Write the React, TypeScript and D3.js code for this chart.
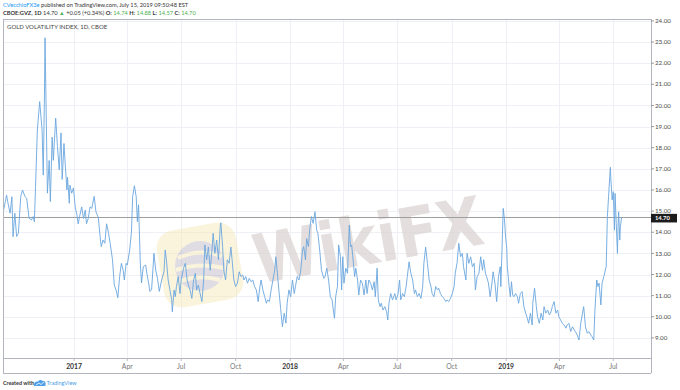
import React from 'react';
import * as d3 from 'd3';

// CBOE:GVZ daily closes ([MM-DD, close])
const gvz2016: [string, number][] = [
  ['09-04', 15.05], ['09-07', 15.45], ['09-09', 15.76], ['09-12', 15.3], ['09-15', 14.9], ['09-18', 15.68], ['09-20', 13.79], ['09-23', 14.9], ['09-26', 13.8], ['09-29', 13.95],
  ['10-03', 15.7], ['10-06', 16.0], ['10-10', 15.7], ['10-13', 15.6], ['10-17', 14.67], ['10-21', 14.58], ['10-24', 14.74], ['10-26', 14.5], ['10-28', 16.16], ['10-31', 18.84],
  ['11-04', 20.18], ['11-08', 18.84], ['11-10', 16.7], ['11-12', 20.4], ['11-13', 23.2], ['11-15', 19.6], ['11-17', 15.85], ['11-20', 17.4], ['11-22', 15.45], ['11-25', 18.5], ['11-27', 17.4],
  ['12-01', 19.4], ['12-04', 18.05], ['12-07', 16.95], ['12-10', 18.7], ['12-12', 16.5], ['12-15', 18.2], ['12-17', 17.27], ['12-20', 16.0], ['12-21', 16.6], ['12-24', 15.37], ['12-25', 16.23], ['12-28', 15.85], ['12-31', 16.1],
];
const gvz2017: [string, number][] = [
  ['01-03', 15.2], ['01-06', 14.8], ['01-08', 14.4], ['01-11', 14.82], ['01-14', 15.2], ['01-17', 14.65], ['01-20', 15.05], ['01-22', 14.4], ['01-25', 14.65], ['01-28', 15.2], ['01-31', 15.13],
  ['02-04', 15.7], ['02-07', 14.97], ['02-11', 14.7], ['02-14', 13.8], ['02-16', 13.32], ['02-19', 13.63], ['02-22', 13.48], ['02-25', 14.4], ['02-28', 14.0],
  ['03-03', 13.48], ['03-07', 12.7], ['03-10', 11.5], ['03-13', 11.27], ['03-16', 10.9], ['03-19', 11.9], ['03-22', 12.53], ['03-25', 12.2], ['03-27', 11.74], ['03-30', 12.53],
  ['04-01', 12.45], ['04-05', 13.16], ['04-08', 14.0], ['04-10', 15.68], ['04-13', 16.2], ['04-16', 15.68], ['04-18', 14.5], ['04-20', 15.3], ['04-23', 12.5], ['04-25', 11.6], ['04-28', 12.37],
  ['05-02', 12.45], ['05-04', 12.06], ['05-07', 11.6], ['05-09', 11.2], ['05-12', 11.27], ['05-16', 13.0], ['05-19', 12.2], ['05-22', 11.82], ['05-25', 11.2], ['05-29', 11.74],
  ['06-02', 12.13], ['06-04', 13.16], ['06-06', 12.7], ['06-09', 11.74], ['06-12', 11.27], ['06-15', 10.8], ['06-16', 10.24], ['06-19', 11.27], ['06-21', 10.95], ['06-23', 11.43], ['06-26', 11.9], ['06-29', 11.1],
  ['07-01', 11.74], ['07-05', 12.3], ['07-08', 12.53], ['07-11', 11.74], ['07-14', 11.43], ['07-16', 11.27], ['07-19', 10.87], ['07-22', 11.74], ['07-25', 12.06], ['07-27', 11.27], ['07-30', 11.5],
  ['08-02', 11.1], ['08-05', 10.72], ['08-08', 11.74], ['08-10', 13.4], ['08-13', 12.7], ['08-16', 13.3], ['08-19', 12.2], ['08-22', 13.16], ['08-24', 13.95], ['08-27', 13.0], ['08-30', 13.63],
  ['09-02', 12.7], ['09-05', 14.27], ['09-06', 14.45], ['09-09', 13.32], ['09-11', 12.2], ['09-14', 11.74], ['09-17', 12.7], ['09-20', 12.53], ['09-23', 13.3], ['09-25', 12.7], ['09-28', 11.74],
  ['10-01', 11.43], ['10-04', 11.59], ['10-07', 12.13], ['10-10', 11.9], ['10-13', 11.98], ['10-15', 11.74], ['10-18', 11.9], ['10-21', 11.59], ['10-24', 11.82], ['10-27', 11.66], ['10-30', 11.74],
  ['11-02', 11.43], ['11-05', 11.27], ['11-08', 10.72], ['11-11', 11.43], ['11-13', 11.74], ['11-16', 11.27], ['11-19', 10.95], ['11-22', 10.64], ['11-24', 10.8], ['11-27', 10.72], ['11-30', 11.27],
  ['12-03', 11.74], ['12-06', 12.2], ['12-08', 12.84], ['12-11', 11.9], ['12-13', 11.27], ['12-16', 10.4], ['12-19', 9.53], ['12-22', 10.17], ['12-25', 9.7], ['12-27', 10.64], ['12-30', 11.27],
];
const gvz2018: [string, number][] = [
  ['01-02', 10.95], ['01-05', 11.74], ['01-08', 11.1], ['01-10', 11.43], ['01-13', 11.9], ['01-16', 11.74], ['01-19', 12.2], ['01-22', 13.16], ['01-24', 13.32], ['01-27', 12.7], ['01-29', 13.7],
  ['02-01', 13.32], ['02-03', 14.1], ['02-06', 14.74], ['02-09', 14.42], ['02-12', 14.97], ['02-15', 14.1], ['02-17', 13.95], ['02-20', 13.16], ['02-23', 12.2], ['02-27', 11.82],
  ['03-01', 11.9], ['03-04', 12.3], ['03-07', 11.74], ['03-10', 10.95], ['03-13', 10.8], ['03-15', 10.32], ['03-17', 9.93], ['03-19', 10.95], ['03-22', 11.43], ['03-24', 13.4], ['03-27', 12.84], ['03-29', 11.27], ['03-31', 12.84],
  ['04-02', 11.59], ['04-05', 12.3], ['04-08', 12.06], ['04-11', 14.34], ['04-13', 13.32], ['04-15', 13.4], ['04-18', 12.53], ['04-20', 11.9], ['04-22', 12.3], ['04-25', 11.74], ['04-27', 11.03], ['04-30', 11.74],
  ['05-03', 11.59], ['05-06', 11.03], ['05-09', 11.74], ['05-11', 11.1], ['05-14', 11.74], ['05-17', 11.59], ['05-20', 11.27], ['05-23', 11.66], ['05-25', 10.95], ['05-28', 12.3], ['05-30', 10.8],
  ['06-02', 10.48], ['06-04', 10.64], ['06-07', 10.32], ['06-10', 10.48], ['06-13', 10.24], ['06-15', 9.85], ['06-17', 10.64], ['06-20', 11.1], ['06-23', 10.8], ['06-27', 11.1], ['06-29', 10.8],
  ['07-02', 11.03], ['07-05', 11.74], ['07-07', 10.8], ['07-10', 11.1], ['07-13', 10.95], ['07-16', 11.43], ['07-18', 11.9], ['07-21', 12.6], ['07-24', 12.06], ['07-27', 11.74], ['07-30', 11.1],
  ['08-01', 11.27], ['08-04', 10.95], ['08-07', 11.1], ['08-10', 10.87], ['08-13', 11.43], ['08-15', 12.53], ['08-18', 13.3], ['08-21', 12.53], ['08-24', 11.74], ['08-27', 11.43], ['08-29', 11.1],
  ['09-01', 10.95], ['09-04', 11.43], ['09-07', 11.27], ['09-09', 11.35], ['09-12', 11.1], ['09-15', 10.95], ['09-18', 10.87], ['09-21', 10.72], ['09-23', 10.8], ['09-26', 10.72], ['09-29', 10.87],
  ['10-02', 11.1], ['10-05', 11.43], ['10-07', 12.06], ['10-10', 12.53], ['10-13', 13.48], ['10-16', 12.84], ['10-19', 13.0], ['10-21', 12.37], ['10-25', 11.74], ['10-27', 13.0], ['10-30', 12.53],
  ['11-02', 12.84], ['11-05', 12.37], ['11-08', 12.53], ['11-10', 11.27], ['11-13', 11.9], ['11-16', 12.06], ['11-19', 12.84], ['11-22', 12.2], ['11-24', 12.7], ['11-27', 12.06], ['11-29', 11.9],
  ['12-02', 11.6], ['12-05', 10.95], ['12-08', 11.6], ['12-10', 12.13], ['12-13', 11.6], ['12-16', 10.72], ['12-19', 11.9], ['12-22', 12.37], ['12-23', 11.43], ['12-25', 13.16], ['12-27', 15.13], ['12-29', 14.66], ['12-31', 13.79],
];
const gvz2019: [string, number][] = [
  ['01-02', 13.24], ['01-03', 12.37], ['01-06', 11.43], ['01-08', 10.95], ['01-10', 11.66], ['01-12', 11.03], ['01-14', 10.95], ['01-17', 11.1], ['01-20', 10.95], ['01-22', 10.64], ['01-25', 11.1], ['01-28', 11.19], ['01-31', 10.48],
  ['02-03', 10.17], ['02-05', 10.0], ['02-08', 9.69], ['02-11', 10.17], ['02-14', 9.61], ['02-15', 10.64], ['02-18', 11.35], ['02-21', 10.48], ['02-23', 10.0], ['02-26', 9.69],
  ['03-01', 10.17], ['03-04', 9.85], ['03-06', 10.48], ['03-09', 10.17], ['03-12', 10.32], ['03-15', 10.09], ['03-17', 10.17], ['03-20', 10.48], ['03-23', 10.72], ['03-26', 10.17], ['03-29', 10.32], ['03-31', 10.0],
  ['04-03', 9.85], ['04-06', 9.69], ['04-09', 9.61], ['04-12', 9.46], ['04-14', 9.61], ['04-17', 9.69], ['04-20', 9.3], ['04-23', 9.53], ['04-26', 9.38], ['04-28', 9.3],
  ['05-01', 9.14], ['05-04', 8.9], ['05-07', 9.69], ['05-10', 10.17], ['05-12', 10.48], ['05-15', 9.53], ['05-18', 9.22], ['05-21', 9.3], ['05-24', 9.14], ['05-26', 9.06], ['05-29', 8.9], ['05-31', 10.32],
  ['06-03', 11.74], ['06-05', 11.43], ['06-07', 11.59], ['06-10', 10.56], ['06-12', 11.59], ['06-15', 11.9], ['06-19', 12.38], ['06-21', 14.74], ['06-23', 15.68], ['06-25', 16.63], ['06-26', 17.07], ['06-27', 16.47], ['06-29', 15.53],
  ['07-01', 15.92], ['07-03', 14.1], ['07-04', 15.84], ['07-06', 14.42], ['07-08', 13.0], ['07-09', 14.26], ['07-10', 14.97], ['07-12', 13.63], ['07-13', 14.26], ['07-15', 14.7],
];

const priceTicks = [9, 10, 11, 12, 13, 14, 15, 16, 17, 18, 19, 20, 21, 22, 23, 24];
const timeTicks = ['2017-01-01', '2017-04-01', '2017-07-01', '2017-10-01', '2018-01-01', '2018-04-01', '2018-07-01', '2018-10-01', '2019-01-01', '2019-04-01', '2019-07-01'];
const timeLabels = ['2017', 'Apr', 'Jul', 'Oct', '2018', 'Apr', 'Jul', 'Oct', '2019', 'Apr', 'Jul'];
const lastClose = 14.7;

const parse = d3.timeParse('%Y-%m-%d');
const series = [
  ...gvz2016.map(([d, v]) => ({ date: parse(`2016-${d}`)!, value: v })),
  ...gvz2017.map(([d, v]) => ({ date: parse(`2017-${d}`)!, value: v })),
  ...gvz2018.map(([d, v]) => ({ date: parse(`2018-${d}`)!, value: v })),
  ...gvz2019.map(([d, v]) => ({ date: parse(`2019-${d}`)!, value: v })),
];

const W = 680;
const H = 390;
const L = 3;
const T = 19;
const R = 651;
const B = 358;
const AXIS_B = 373;

const x = d3.scaleTime().domain([parse('2016-09-03')!, parse('2019-09-01')!]).range([L, 650]);
const y = d3.scaleLinear().domain([8.05, 24.09]).range([B, T]);

const line = d3
  .line<{ date: Date; value: number }>()
  .x((d) => x(d.date))
  .y((d) => y(d.value));

const FONT = 'Lato, "Open Sans", sans-serif';
const GREEN = '#4caf50';
const BORDER = '#b2b5be';
const GRID = '#eef0f5';

export default function App() {
  const lastY = y(lastClose);
  return (
    <svg width={W} height={H} style={{ position: 'absolute', left: 0, top: 0, background: '#fff' }} fontFamily={FONT}>
      <defs>
        <clipPath id="plot">
          <rect x={L} y={T} width={R - L} height={B - T} />
        </clipPath>
        <clipPath id="priceAxis">
          <rect x={R} y={T} width={W - R} height={B - T} />
        </clipPath>
      </defs>

      {/* header */}
      <text x={3} y={7} fontSize={5.7} fill="#333">
        <tspan fill="#2196f3">CVecchioFX3e</tspan>
        <tspan> published on TradingView.com, July 15, 2019 09:50:48 EST</tspan>
      </text>
      <text x={3} y={15} fontSize={5.7} fill="#333">
        <tspan fontWeight="bold">CBOE:GVZ, 1D</tspan>
        <tspan> 14.70 </tspan>
        <tspan fill={GREEN}>▲</tspan>
        <tspan> +0.05 (+0.34%) </tspan>
        <tspan fontWeight="bold">O:</tspan>
        <tspan fill={GREEN}> 14.74 </tspan>
        <tspan fontWeight="bold">H:</tspan>
        <tspan fill={GREEN}> 14.88 </tspan>
        <tspan fontWeight="bold">L:</tspan>
        <tspan fill={GREEN}> 14.57 </tspan>
        <tspan fontWeight="bold">C:</tspan>
        <tspan fill={GREEN}> 14.70</tspan>
      </text>

      {/* grid */}
      <g stroke={GRID} strokeWidth={1}>
        {priceTicks.map((t) => (
          <line key={`h${t}`} x1={L} x2={R} y1={Math.round(y(t)) + 0.5} y2={Math.round(y(t)) + 0.5} />
        ))}
        {timeTicks.map((t) => {
          const xx = Math.round(x(parse(t)!)) + 0.5;
          return <line key={`v${t}`} x1={xx} x2={xx} y1={T} y2={B} />;
        })}
      </g>

      {/* WikiFX watermark */}
      <g opacity={0.45}>
        <rect x={160} y={226} width={80} height={78} rx={18} fill="#f6e7b4" transform="rotate(-10 200 265)" />
        <circle cx={200} cy={266} r={25} fill="#b9b3c4" />
        <path d="M178 258 Q200 248 222 256 M176 270 Q200 262 224 268 M180 281 Q200 274 220 280" stroke="#f6e7b4" strokeWidth={4} fill="none" />
      </g>
      <text
        x={368}
        y={264}
        fontSize={68}
        fontWeight="bold"
        fontFamily='"DejaVu Sans", sans-serif'
        fill="#d9d1d1"
        opacity={0.7}
        textAnchor="middle"
        textLength={232}
        lengthAdjust="spacingAndGlyphs"
        transform="rotate(-10 368 240)"
      >
        WikiFX
      </text>

      {/* title */}
      <text x={7} y={28.7} fontSize={6} fill="#444">
        GOLD VOLATILITY INDEX, 1D, CBOE
      </text>

      {/* last price line */}
      <line x1={L} x2={R} y1={Math.round(lastY) + 0.5} y2={Math.round(lastY) + 0.5} stroke="#9e9e9e" strokeWidth={1} />

      {/* series */}
      <path d={line(series) ?? ''} fill="none" stroke="#6aa6de" strokeWidth={0.9} clipPath="url(#plot)" />

      {/* frame */}
      <g stroke={BORDER} strokeWidth={1} fill="none">
        <line x1={L + 0.5} x2={L + 0.5} y1={T} y2={AXIS_B} />
        <line x1={L} x2={R} y1={T + 0.5} y2={T + 0.5} />
        <line x1={R + 0.5} x2={R + 0.5} y1={T} y2={AXIS_B} />
        <line x1={L} x2={R} y1={B + 0.5} y2={B + 0.5} />
        <line x1={L} x2={R} y1={AXIS_B + 0.5} y2={AXIS_B + 0.5} />
      </g>

      {/* price axis */}
      <g clipPath="url(#priceAxis)">
        {priceTicks.map((t) => (
          <g key={`p${t}`} transform={`translate(0,${y(t)})`}>
            <line x1={R} x2={R + 3} stroke="#999" />
            <text x={655} dy="0.35em" fontSize={6.2} fill="#4a4a4a">
              {d3.format('.2f')(t)}
            </text>
          </g>
        ))}
      </g>
      <rect x={R} y={lastY - 3.6} width={26} height={8.6} fill="#1c1c1c" />
      <text x={655} y={lastY + 0.7} dy="0.35em" fontSize={5.8} fill="#fff" fontWeight="bold">
        {d3.format('.2f')(lastClose)}
      </text>

      {/* time axis */}
      {timeTicks.map((t, i) => {
        const xx = x(parse(t)!);
        const isYear = /^\d{4}$/.test(timeLabels[i]);
        return (
          <g key={`t${t}`}>
            <line x1={xx} x2={xx} y1={B} y2={B + 3} stroke="#bbb" />
            <text x={xx} y={369} fontSize={6.8} textAnchor="middle" fill={isYear ? '#333' : '#777'} fontWeight={isYear ? 'bold' : 'normal'}>
              {timeLabels[i]}
            </text>
          </g>
        );
      })}

      {/* footer */}
      <text x={3} y={385} fontSize={5.4} fill="#333" fontWeight="bold">
        Created with
      </text>
      <g transform="translate(33,379)">
        <path d="M1 6 Q1 2 5 2.5 Q7 0 10 2 Q13 2 12.5 5 L12.5 7 L1 7 Z" fill="#4ea1e8" />
        <path d="M3 6 L6 4 L8 5.5 L11 3" stroke="#fff" strokeWidth={0.8} fill="none" />
      </g>
      <text x={46.5} y={385} fontSize={5.6} fill="#4ea1e8">
        TradingView
      </text>
    </svg>
  );
}
